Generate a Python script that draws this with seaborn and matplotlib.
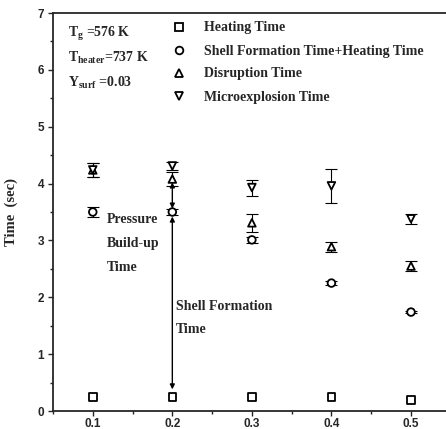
import numpy as np
import pandas as pd
import seaborn as sns
import matplotlib.pyplot as plt
from matplotlib.ticker import MultipleLocator

# Surfactant concentration (x) and the four measured times
conc = [0.1, 0.2, 0.3, 0.4, 0.5]
heating = [0.25, 0.25, 0.25, 0.25, 0.19]
shell_heat = [3.50, 3.50, 3.01, 2.25, 1.74]
shell_heat_err = [0.09, 0.05, 0.05, 0.03, 0.02]
disruption = [4.24, 4.08, 3.31, 2.89, 2.55]
disruption_err = [0.13, 0.12, 0.16, 0.09, 0.09]
microexp = [4.24, 4.31, 3.93, 3.96, 3.38]
microexp_err = [0.13, 0.07, 0.14, 0.30, 0.09]

series_names = ["Heating Time", "Shell Formation Time+Heating Time",
                "Disruption Time", "Microexplosion Time"]

df = pd.DataFrame({
    "conc": conc * 4,
    "time": heating + shell_heat + disruption + microexp,
    "err": [0.0] * 5 + shell_heat_err + disruption_err + microexp_err,
    "series": [s for s in series_names for _ in conc],
})

sns.set_style("ticks")
plt.rcParams["font.family"] = ["Liberation Serif", "DejaVu Serif"]
plt.rcParams["mathtext.fontset"] = "custom"
plt.rcParams["mathtext.rm"] = "Liberation Serif:bold"
plt.rcParams["mathtext.it"] = "Liberation Serif:bold"

fig = plt.figure(figsize=(4.46, 4.29), dpi=100)
ax = fig.add_axes([53 / 446, 18 / 429, 1 - 53 / 446, 398 / 429])

markers = {series_names[0]: "s", series_names[1]: "o",
           series_names[2]: "^", series_names[3]: "v"}

# error bars first, markers on top
for name in series_names[1:]:
    sub = df[df["series"] == name]
    ax.errorbar(sub["conc"], sub["time"], yerr=sub["err"], fmt="none",
                ecolor="black", elinewidth=0.8, capsize=4, capthick=0.8)

sns.scatterplot(data=df, x="conc", y="time", style="series", markers=markers,
                facecolor="white", edgecolor="black", linewidth=1.3, s=30,
                color="white", legend=False, ax=ax, zorder=5)

# arrows at 0.2
ax.annotate("", xy=(0.2, 4.02), xytext=(0.2, 3.56),
            arrowprops=dict(arrowstyle="<|-|>", lw=1, color="black",
                            mutation_scale=7, shrinkA=0, shrinkB=0))
ax.annotate("", xy=(0.2, 3.42), xytext=(0.2, 0.38),
            arrowprops=dict(arrowstyle="<|-|>", lw=1, color="black",
                            mutation_scale=7, shrinkA=0, shrinkB=0))

ax.text(0.118, 3.30, "Pressure", fontsize=10, fontweight="bold")
ax.text(0.118, 2.88, "Build-up", fontsize=10, fontweight="bold")
ax.text(0.118, 2.46, "Time", fontsize=10, fontweight="bold")
ax.text(0.205, 1.78, "Shell Formation", fontsize=10, fontweight="bold")
ax.text(0.205, 1.38, "Time", fontsize=10, fontweight="bold")

# conditions text
ax.text(0.069, 6.58, r"T$_{\rm g}$ =576 K", fontsize=10, fontweight="bold")
ax.text(0.069, 6.14, r"T$_{\rm heater}$=737 K", fontsize=10, fontweight="bold")
ax.text(0.069, 5.70, r"Y$_{\rm surf}$ =0.03", fontsize=10, fontweight="bold")

# legend
handles = [plt.Line2D([], [], ls="none", marker=markers[n], mfc="white",
                      mec="black", mew=1.3, ms=5.5) for n in series_names]
leg = ax.legend(handles, series_names, loc="upper left",
                bbox_to_anchor=(158 / 446, 1 - 9 / 429),
                bbox_transform=fig.transFigure, frameon=False,
                handletextpad=1.2, labelspacing=0.72, handlelength=1.2,
                prop={"size": 10, "weight": "bold"})

ax.set_xlim(0.05, 0.544)
ax.set_ylim(0, 7)
ax.xaxis.set_minor_locator(MultipleLocator(0.05))
ax.yaxis.set_major_locator(MultipleLocator(1))
ax.yaxis.set_minor_locator(MultipleLocator(0.5))
ax.set_xticks(conc)
ax.set_xticklabels(["0.1", "0.2", "0.3", "0.4", "0.5"])
ax.tick_params(which="both", direction="out", top=False, right=False,
               width=1)
ax.tick_params(which="major", length=3.5, pad=1.5)
ax.tick_params(axis="y", which="major", pad=3)
ax.tick_params(which="minor", length=2)
for lab in ax.get_xticklabels() + ax.get_yticklabels():
    lab.set_family(["Liberation Sans", "DejaVu Sans"])
    lab.set_fontweight("bold")
    lab.set_fontsize(8.5)

ax.spines["right"].set_visible(False)
for sp in ["left", "bottom", "top"]:
    ax.spines[sp].set_linewidth(1.3)

ax.set_xlabel("")
ax.set_ylabel("Time  (sec)", fontsize=10.5, fontweight="bold", labelpad=14)

fig.savefig("out.png", dpi=100)
